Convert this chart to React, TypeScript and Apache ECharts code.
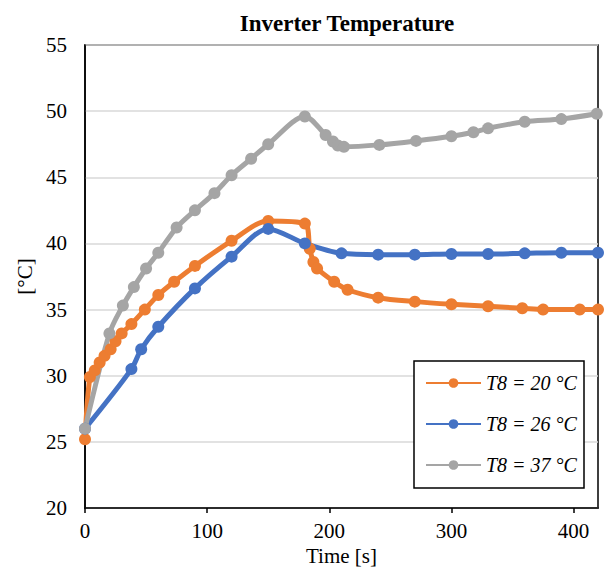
import React, { useEffect, useRef } from "react";
import * as echarts from "echarts";

const tOrange = [0, 4, 8, 12, 16, 21, 25, 30, 38, 49, 60, 73, 90, 120, 150, 180, 184, 187, 190, 204, 215, 240, 270, 300, 330, 358, 375, 405, 420];
const vOrange = [25.2, 29.9, 30.4, 31.0, 31.5, 32.0, 32.6, 33.2, 33.9, 35.0, 36.1, 37.1, 38.3, 40.2, 41.7, 41.5, 39.6, 38.6, 38.1, 37.1, 36.5, 35.9, 35.6, 35.4, 35.25, 35.1, 35.0, 35.0, 35.0];

const tBlue = [0, 38, 46, 60, 90, 120, 150, 180, 210, 240, 270, 300, 330, 360, 390, 420];
const vBlue = [26.0, 30.5, 32.0, 33.7, 36.6, 39.0, 41.1, 40.0, 39.25, 39.15, 39.15, 39.2, 39.2, 39.25, 39.3, 39.3];

const tGray = [0, 20, 31, 40, 50, 60, 75, 90, 106, 120, 136, 150, 180, 197, 203, 207, 212, 241, 271, 300, 318, 330, 360, 390, 419];
const vGray = [26.0, 33.2, 35.3, 36.7, 38.1, 39.3, 41.2, 42.5, 43.8, 45.15, 46.4, 47.5, 49.6, 48.2, 47.7, 47.4, 47.3, 47.45, 47.75, 48.1, 48.4, 48.7, 49.2, 49.4, 49.8];

const seriesNames = ["T8 = 20 °C", "T8 = 26 °C", "T8 = 37 °C"];
const seriesColors = ["#ED7D31", "#4472C4", "#A5A5A5"];

const FONT = "'Liberation Serif', 'Times New Roman', serif";

function pairs(t: number[], v: number[]) {
  return t.map((x, i) => [x, v[i]]);
}

export default function App() {
  const ref = useRef<HTMLDivElement>(null);
  useEffect(() => {
    if (!ref.current) return;
    const chart = echarts.init(ref.current, undefined, { renderer: "svg" });
    const datasets = [pairs(tOrange, vOrange), pairs(tBlue, vBlue), pairs(tGray, vGray)];
    chart.setOption({
      animation: false,
      backgroundColor: "#ffffff",
      title: {
        text: "Inverter Temperature",
        left: 342,
        textAlign: "center",
        top: 7,
        textStyle: { fontFamily: FONT, fontWeight: "bold", fontSize: 23, color: "#000" },
      },
      grid: {
        left: 85,
        right: 7,
        top: 45,
        bottom: 67,
        show: true,
        borderColor: "#000",
        borderWidth: 1.5,
        backgroundColor: "transparent",
      },
      graphic: [
        {
          type: "rect",
          z: 5,
          shape: { x: 414, y: 361, width: 170, height: 127 },
          style: { fill: "#fff", stroke: "#000", lineWidth: 1.5 },
        },
      ],
      legend: {
        orient: "vertical",
        left: 413,
        top: 362,
        z: 10,
        padding: [11, 2, 11, 12],
        itemGap: 21,
        itemWidth: 55,
        itemHeight: 12,
        borderWidth: 0,
        textStyle: { fontFamily: FONT, fontStyle: "italic", fontSize: 20, color: "#000" },
        data: seriesNames,
      },
      xAxis: {
        type: "value",
        min: 0,
        max: 420,
        interval: 100,
        name: "Time [s]",
        nameLocation: "middle",
        nameGap: 37,
        nameTextStyle: { fontFamily: FONT, fontSize: 21, color: "#000" },
        axisLine: { show: true, lineStyle: { color: "#000", width: 1.5 } },
        axisTick: { show: true, inside: false, length: 5, lineStyle: { color: "#000", width: 1.5 } },
        axisLabel: { fontFamily: FONT, fontSize: 21, color: "#000", margin: 12, showMaxLabel: false },
        splitLine: { show: false },
      },
      yAxis: {
        type: "value",
        min: 20,
        max: 55,
        interval: 5,
        name: "[°C]",
        nameLocation: "middle",
        nameGap: 50,
        nameTextStyle: { fontFamily: FONT, fontSize: 21, color: "#000" },
        axisLine: { show: true, lineStyle: { color: "#000", width: 1.5 } },
        axisTick: { show: false },
        axisLabel: { fontFamily: FONT, fontSize: 21, color: "#000", margin: 18 },
        splitLine: { show: true, lineStyle: { color: "#d9d9d9", width: 1.5 } },
      },
      series: datasets.map((d, i) => ({
        name: seriesNames[i],
        type: "line",
        data: d,
        smooth: 0.3,
        symbol: "circle",
        symbolSize: 12,
        showAllSymbol: true,
        color: seriesColors[i],
        lineStyle: { width: 5, color: seriesColors[i] },
        itemStyle: { color: seriesColors[i] },
      })),
    });
    return () => chart.dispose();
  }, []);
  return <div ref={ref} style={{ position: "absolute", left: 0, top: 0, width: 605, height: 575 }} />;
}
